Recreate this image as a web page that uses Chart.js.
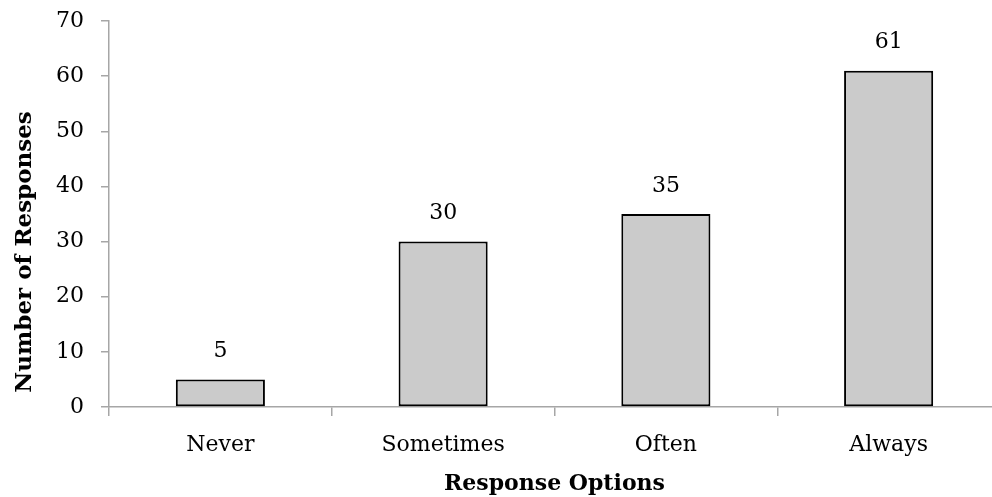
<!DOCTYPE html>
<html>
<head>
<meta charset="utf-8">
<script src="https://cdn.jsdelivr.net/npm/chart.js@4/dist/chart.umd.min.js"></script>
<style>
  html, body { margin: 0; padding: 0; background: #fff; overflow: hidden; }
  #wrap { width: 1000px; height: 497px; }
</style>
</head>
<body>
<div id="wrap"><canvas id="chart" width="1000" height="497"></canvas></div>
<script>
// 回答の選択肢と件数
const categories = ['Never', 'Sometimes', 'Often', 'Always'];
const responses = [5, 30, 35, 61];
const yTicks = [0, 10, 20, 30, 40, 50, 60, 70];
const yTitle = 'Number of Responses';
const xTitle = 'Response Options';

const FONT = "'DejaVu Serif', 'Liberation Serif', serif";
const AXIS_GRAY = '#a6a6a6';

// 棒の上に数値を描く
const valueLabels = {
    id: 'valueLabels',
    afterDatasetsDraw(chart) {
        const ctx = chart.ctx;
        const meta = chart.getDatasetMeta(0);
        ctx.save();
        ctx.font = '22px ' + FONT;
        ctx.fillStyle = '#000';
        ctx.textAlign = 'center';
        ctx.textBaseline = 'middle';
        meta.data.forEach((bar, i) => {
            ctx.fillText(String(responses[i]), bar.x, bar.y - 28);
        });
        ctx.restore();
    }
};

// 縦軸タイトル（Excel風に少し下寄せ）
const yAxisTitle = {
    id: 'yAxisTitle',
    afterDraw(chart) {
        const ctx = chart.ctx;
        const area = chart.chartArea;
        ctx.save();
        ctx.translate(25, (area.top + area.bottom) / 2 + 38);
        ctx.rotate(-Math.PI / 2);
        ctx.font = 'bold 23px ' + FONT;
        ctx.fillStyle = '#000';
        ctx.textAlign = 'center';
        ctx.textBaseline = 'middle';
        ctx.fillText(yTitle, 0, 0);
        ctx.restore();
    }
};

new Chart(document.getElementById('chart'), {
    type: 'bar',
    data: {
        labels: categories,
        datasets: [{
            data: responses,
            backgroundColor: '#cbcbcb',
            borderColor: '#000',
            borderWidth: 2,
            borderSkipped: false,
            categoryPercentage: 1,
            barPercentage: 0.4
        }]
    },
    options: {
        responsive: false,
        animation: false,
        layout: { padding: { top: 21, left: 0, right: 0, bottom: 0 } },
        plugins: {
            legend: { display: false },
            tooltip: { enabled: false }
        },
        scales: {
            x: {
                grid: {
                    offset: true,
                    drawOnChartArea: false,
                    drawTicks: true,
                    tickLength: 9,
                    color: AXIS_GRAY,
                    lineWidth: 1.5
                },
                border: { color: AXIS_GRAY, width: 1.5 },
                ticks: {
                    color: '#000',
                    font: { family: FONT, size: 22 },
                    padding: 16,
                    maxRotation: 0
                },
                title: {
                    display: true,
                    text: xTitle,
                    color: '#000',
                    font: { family: FONT, size: 22, weight: 'bold' },
                    padding: { top: 0, bottom: 0 }
                },
                afterFit(scale) { scale.height = 90; }
            },
            y: {
                min: 0,
                max: 70,
                afterBuildTicks(scale) {
                    scale.ticks = yTicks.map(v => ({ value: v }));
                },
                grid: {
                    drawOnChartArea: false,
                    drawTicks: true,
                    tickLength: 8,
                    color: AXIS_GRAY,
                    lineWidth: 1.5
                },
                border: { color: AXIS_GRAY, width: 1.5 },
                ticks: {
                    color: '#000',
                    font: { family: FONT, size: 22 },
                    padding: 17
                },
                title: { display: false },
                afterFit(scale) {
                    scale.width = 109;
                    scale.paddingTop = 0;
                    scale.paddingBottom = 0;
                }
            }
        }
    },
    plugins: [valueLabels, yAxisTitle]
});
</script>
</body>
</html>
